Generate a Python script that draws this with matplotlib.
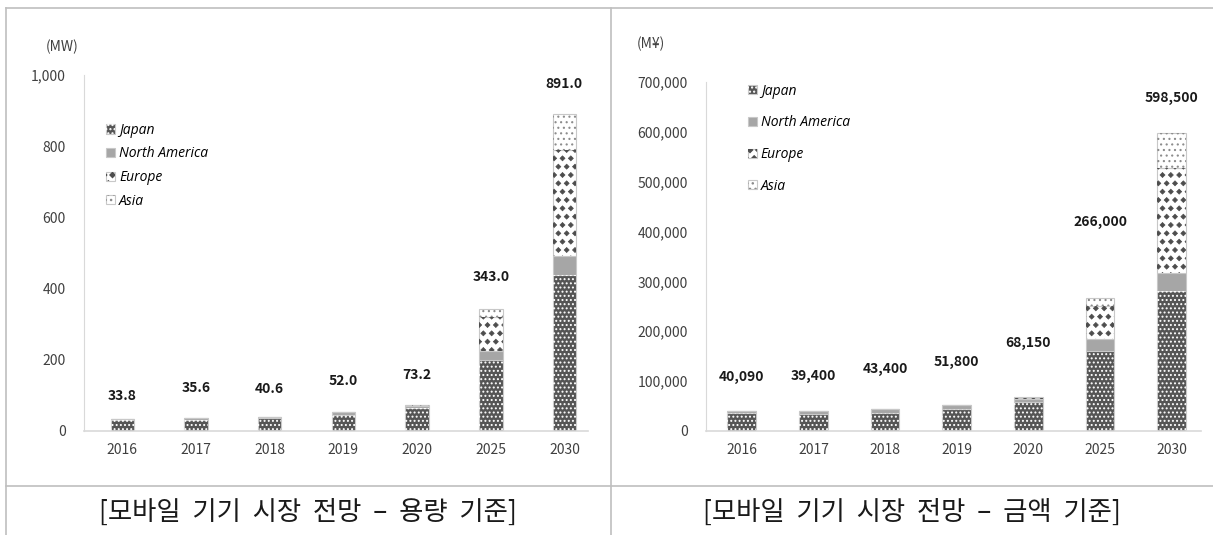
import matplotlib
matplotlib.use('Agg')
import matplotlib.pyplot as plt
from matplotlib import hatch as mhatch
from matplotlib.path import Path
from matplotlib.lines import Line2D

plt.rcParams['font.family'] = ['Noto Sans CJK KR', 'DejaVu Sans']

years = ['2016', '2017', '2018', '2019', '2020', '2025', '2030']
regions = ['Japan', 'North America', 'Europe', 'Asia']

# capacity, MW
mw_japan = [30.0, 31.5, 35.5, 46.0, 64.0, 200.0, 438.0]
mw_na = [3.8, 4.1, 5.1, 6.0, 7.2, 24.0, 53.0]
mw_europe = [0, 0, 0, 0, 1.0, 97.0, 299.0]
mw_asia = [0, 0, 0, 0, 1.0, 22.0, 101.0]
mw_total = [33.8, 35.6, 40.6, 52.0, 73.2, 343.0, 891.0]

# sales, million yen
yen_japan = [36000, 34000, 37000, 44000, 59000, 160000, 280000]
yen_na = [4090, 5400, 6400, 7800, 5000, 24000, 36000]
yen_europe = [0, 0, 0, 0, 3000, 66000, 211000]
yen_asia = [0, 0, 0, 0, 1150, 16000, 71500]
yen_total = [40090, 39400, 43400, 51800, 68150, 266000, 598500]


# filled diamond hatch, used in place of the star pattern ('*')
class Diamonds(mhatch.Shapes):
    size = 0.3
    filled = True

    def __init__(self, hatch, density):
        self.num_rows = hatch.count('*') * density
        p = Path([(0, 1), (1, 0), (0, -1), (-1, 0), (0, 1)], closed=True)
        self.shape_vertices = p.vertices
        self.shape_codes = p.codes
        super().__init__(hatch, density)


mhatch._hatch_types = [Diamonds if t is mhatch.Stars else t
                       for t in mhatch._hatch_types]

# face colour, hatch, hatch colour, hatch linewidth
styles = [
    ('#555555', '....', 'white', 0.9),
    ('#a6a6a6', None, None, 1.0),
    ('white', '**', '#4d4d4d', 0.5),
    ('white', '...', '#8c8c8c', 0.8),
]


def stacked(ax, series, width):
    x = range(len(years))
    bottom = [0] * len(years)
    handles = []
    for vals, (face, hatch, hcol, hlw) in zip(series, styles):
        base = ax.bar(x, vals, width, bottom=bottom, color=face,
                      edgecolor='#c8c8c8', linewidth=0.8, zorder=2)
        h = base.patches[0]
        if hatch:
            with plt.rc_context({'hatch.linewidth': hlw}):
                over = ax.bar(x, vals, width, bottom=bottom, facecolor='none',
                              edgecolor=hcol, linewidth=0, hatch=hatch, zorder=3)
            for p in over.patches:
                if hasattr(p, 'set_hatch_linewidth'):
                    p.set_hatch_linewidth(hlw)
            h = (base.patches[0], over.patches[0])
        handles.append(h)
        bottom = [b + v for b, v in zip(bottom, vals)]
    return handles, bottom


def style_axes(ax):
    for s in ['top', 'right']:
        ax.spines[s].set_visible(False)
    ax.spines['left'].set_color('#d9d9d9')
    ax.spines['bottom'].set_color('#d9d9d9')
    ax.spines['bottom'].set_linewidth(1.2)
    ax.tick_params(length=0, labelsize=10, colors='#404040', pad=9)
    ax.set_xticks(range(len(years)))
    ax.set_xticklabels(years)


legend_font = {'family': ['Open Sans', 'DejaVu Sans'], 'style': 'italic', 'size': 10}

fig = plt.figure(figsize=(12.13, 5.35), dpi=100)

# left: capacity
ax1 = fig.add_axes([84 / 1213, 1 - 431 / 535, 504 / 1213, 356 / 535])
h1, top1 = stacked(ax1, [mw_japan, mw_na, mw_europe, mw_asia], 0.32)
style_axes(ax1)
ax1.set_xlim(-0.52, 6.32)
ax1.set_ylim(0, 1000)
ax1.set_yticks(range(0, 1001, 200))
ax1.set_yticklabels(['0', '200', '400', '600', '800', '1,000'])
ax1.tick_params(axis='y', pad=13)
off1 = [23, 30, 28, 31, 30, 32, 30]
for i, (t, lab) in enumerate(zip(top1, mw_total)):
    ax1.annotate(f'{lab:.1f}', (i, t), xytext=(0, off1[i] * 0.72),
                 textcoords='offset points', ha='center', va='center',
                 fontsize=10, fontweight='bold', color='#1a1a1a')
ax1.legend(h1, regions, loc='upper left', bbox_to_anchor=(0.03, 0.885),
           frameon=False, handlelength=0.65, handleheight=0.65, handletextpad=0.3,
           labelspacing=0.62, borderpad=0, prop=legend_font)
fig.text(62 / 1213, 1 - 47 / 535, '(MW)', ha='center', va='center',
         fontsize=10, color='#404040')

# right: sales
ax2 = fig.add_axes([706 / 1213, 1 - 431 / 535, 495 / 1213, 349 / 535])
h2, top2 = stacked(ax2, [yen_japan, yen_na, yen_europe, yen_asia], 0.4)
style_axes(ax2)
ax2.set_xlim(-0.5, 6.41)
ax2.set_ylim(0, 700000)
ax2.set_yticks(range(0, 700001, 100000))
ax2.set_yticklabels(['0'] + [f'{v:,}' for v in range(100000, 700001, 100000)])
ax2.tick_params(axis='y', pad=13)
off2 = [34, 35, 40, 43, 54, 76, 35]
for i, (t, lab) in enumerate(zip(top2, yen_total)):
    ax2.annotate(f'{lab:,}', (i, t), xytext=(0, off2[i] * 0.72),
                 textcoords='offset points', ha='center', va='center',
                 fontsize=10, fontweight='bold', color='#1a1a1a')
ax2.legend(h2, regions, loc='upper left', bbox_to_anchor=(0.07, 1.015),
           frameon=False, handlelength=0.65, handleheight=0.65, handletextpad=0.3,
           labelspacing=1.2, borderpad=0, prop=legend_font)
fig.text(651 / 1213, 1 - 44 / 535, '(M¥)', ha='center', va='center',
         fontsize=10, color='#404040')

# table borders
W, H = 1213, 535
grey = '#bfbfbf'
for xs, ys in [((6, W), (8, 8)), ((6, 6), (8, H)), ((611, 611), (8, H)),
               ((6, W), (486, 486))]:
    fig.add_artist(Line2D([x / W for x in xs], [1 - y / H for y in ys],
                          color=grey, linewidth=1.2))

fig.text(308 / W, 1 - 512 / H, '[모바일  기기  시장  전망  –  용량  기준]',
         ha='center', va='center', fontsize=19, fontweight='light', color='#1a1a1a')
fig.text(912 / W, 1 - 512 / H, '[모바일  기기  시장  전망  –  금액  기준]',
         ha='center', va='center', fontsize=19, fontweight='light', color='#1a1a1a')

fig.savefig('out.png', dpi=100)
